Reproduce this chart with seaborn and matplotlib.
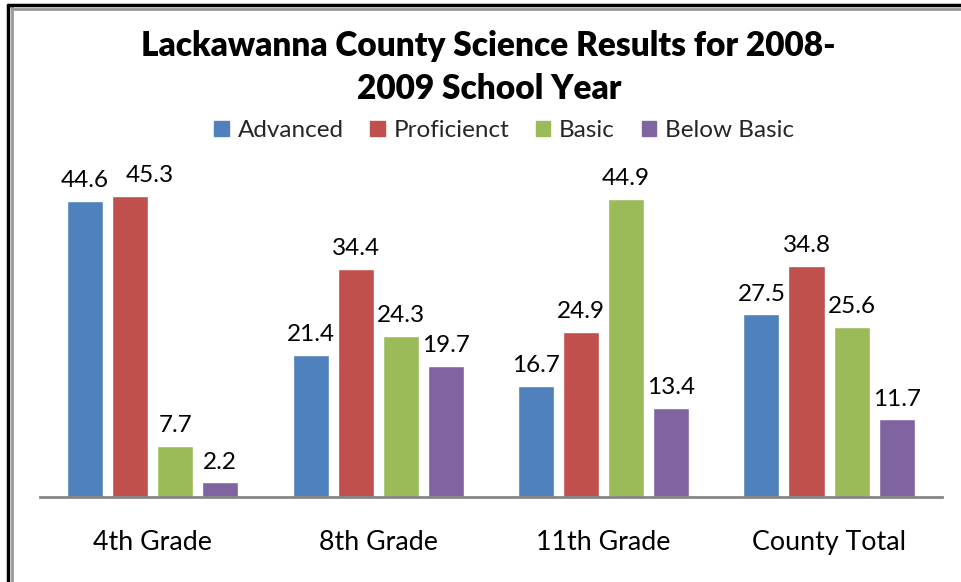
import pandas as pd
import matplotlib.pyplot as plt
import seaborn as sns
from matplotlib.patches import Rectangle
from matplotlib.lines import Line2D

grades = ['4th Grade', '8th Grade', '11th Grade', 'County Total']
levels = ['Advanced', 'Proficienct', 'Basic', 'Below Basic']
advanced = [44.6, 21.4, 16.7, 27.5]
proficient = [45.3, 34.4, 24.9, 34.8]
basic = [7.7, 24.3, 44.9, 25.6]
below_basic = [2.2, 19.7, 13.4, 11.7]
colors = ['#4F81BD', '#C0504D', '#9BBB59', '#8064A2']

rows = []
for level, vals in zip(levels, [advanced, proficient, basic, below_basic]):
    for g, v in zip(grades, vals):
        rows.append({'grade': g, 'level': level, 'pct': v})
df = pd.DataFrame(rows)

sns.set_style('white')
plt.rcParams['font.family'] = ['Lato', 'DejaVu Sans']

fig = plt.figure(figsize=(9.62, 5.82), dpi=100)
ax = fig.add_axes([0.0416, 0.146, 0.9374, 0.5705])

sns.barplot(data=df, x='grade', y='pct', hue='level', order=grades,
            hue_order=levels, palette=colors, gap=0.2, width=0.8,
            saturation=1, legend=False, ax=ax)

pad = 7
labels = []
for cont in ax.containers:
    labels.append(ax.bar_label(cont, fmt='%.1f', padding=pad, fontsize=17.5, color='black'))

ax.set_xlim(-0.5, 3.5)
ax.set_ylim(0, 50)
ax.set_xlabel('')
ax.set_ylabel('')
ax.set_yticks([])
ax.tick_params(axis='x', length=0, pad=24, labelsize=19.3, labelcolor='black')
for s in ['top', 'right', 'left']:
    ax.spines[s].set_visible(False)
ax.spines['bottom'].set_color('#868686')
ax.spines['bottom'].set_linewidth(2)

fig.text(0.508, 0.884, 'Lackawanna County Science Results for 2008-\n2009 School Year',
         ha='center', va='center', fontsize=24, fontweight='heavy',
         color='black', linespacing=1.42)

handles = [Rectangle((0, 0), 1, 1, color=c) for c in colors]
fig.legend(handles, levels, loc='center', bbox_to_anchor=(0.524, 0.776),
           ncol=4, frameon=False, fontsize=17.5, handlelength=0.6,
           handleheight=0.6, handletextpad=0.35, columnspacing=1.1)

# push value labels apart where neighbours collide (Excel does this)
fig.canvas.draw()
renderer = fig.canvas.get_renderer()
for i in range(len(grades)):
    prev = None
    for group in labels:
        ann = group[i]
        bb = ann.get_window_extent(renderer)
        if prev is not None and bb.x0 < prev.x1 and bb.y0 < prev.y1 and bb.y1 > prev.y0:
            shift_px = prev.x1 - bb.x0 + 17
            ann.xyann = (shift_px * 72 / fig.dpi, pad)
            bb = ann.get_window_extent(renderer)
        prev = bb

# outer frame like the Excel chart border
fig.add_artist(Line2D([0.008, 0.008], [0, 0.992], color='black', lw=2.5))
fig.add_artist(Line2D([0.012, 0.012], [0, 0.988], color='#999999', lw=2))
fig.add_artist(Line2D([0.008, 1], [0.992, 0.992], color='black', lw=2.5))
fig.add_artist(Line2D([0.012, 1], [0.985, 0.985], color='#999999', lw=2))

fig.savefig('out.png', dpi=100)
